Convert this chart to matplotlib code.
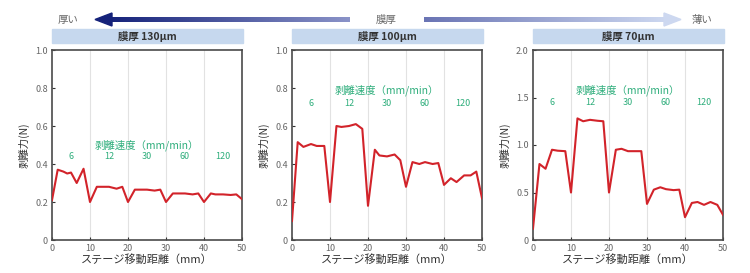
import matplotlib
matplotlib.use("Agg")
import matplotlib.pyplot as plt
import numpy as np
from matplotlib.patches import Polygon, Rectangle

plt.rcParams["font.family"] = ["Noto Sans CJK JP", "DejaVu Sans"]

# 剥離力データ（ステージ移動距離 mm, 剥離力 N）
dist_130 = [0, 1.5, 3, 4, 5, 6.5, 8.3, 10, 11.8, 13, 15, 17, 18.5, 20, 21.8, 23, 25, 27, 28.5,
            30, 31.8, 33, 35, 37, 38.5, 40, 41.8, 43, 45, 47, 48.5, 50]
force_130 = [0.21, 0.37, 0.36, 0.35, 0.355, 0.30, 0.375, 0.20, 0.28, 0.28, 0.28, 0.27, 0.28,
             0.20, 0.265, 0.265, 0.265, 0.26, 0.265, 0.20, 0.245, 0.245, 0.245, 0.24, 0.245,
             0.20, 0.245, 0.24, 0.24, 0.237, 0.24, 0.215]

dist_100 = [0, 1.5, 3, 5, 6.5, 8.5, 10, 11.7, 13, 15, 16.8, 18.5, 20, 21.8, 23, 25, 27, 28.5,
            30, 31.7, 33.5, 35, 37, 38.5, 40, 41.8, 43.3, 45.3, 47, 48.5, 50]
force_100 = [0.10, 0.515, 0.49, 0.505, 0.495, 0.495, 0.20, 0.60, 0.595, 0.60, 0.61, 0.585,
             0.18, 0.475, 0.445, 0.44, 0.45, 0.42, 0.28, 0.41, 0.40, 0.41, 0.40, 0.405,
             0.29, 0.325, 0.305, 0.34, 0.34, 0.36, 0.22]

dist_70 = [0, 1.7, 3.3, 5, 6.5, 8.5, 10, 11.7, 13.2, 15, 17, 18.5, 20, 21.8, 23.3, 25, 27, 28.5,
           30, 31.8, 33.5, 35, 37, 38.5, 40, 41.8, 43.3, 45, 46.7, 48.5, 50]
force_70 = [0.12, 0.80, 0.75, 0.95, 0.94, 0.935, 0.50, 1.28, 1.25, 1.265, 1.255, 1.25,
            0.50, 0.95, 0.96, 0.935, 0.935, 0.935, 0.38, 0.53, 0.555, 0.535, 0.525, 0.53,
            0.24, 0.39, 0.40, 0.37, 0.40, 0.37, 0.265]

titles = ["膜厚 130\u03bcm", "膜厚 100\u03bcm", "膜厚 70\u03bcm"]
speeds = ["6", "12", "30", "60", "120"]
speed_x = [5, 15, 25, 35, 45]
y_max = [1.0, 1.0, 2.0]
y_ticks = [
    [0, 0.2, 0.4, 0.6, 0.8, 1.0],
    [0, 0.2, 0.4, 0.6, 0.8, 1.0],
    [0, 0.5, 1.0, 1.5, 2.0],
]
y_ticklabels = [
    ["0", "0.2", "0.4", "0.6", "0.8", "1.0"],
    ["0", "0.2", "0.4", "0.6", "0.8", "1.0"],
    ["0", "0.5", "1.0", "1.5", "2.0"],
]
speed_title_y = [0.50, 0.79, 1.58]
speed_num_y = [0.44, 0.72, 1.45]

RED = "#d2232a"
GREEN = "#2fae7c"

W, H = 750, 273
fig = plt.figure(figsize=(7.5, 2.73), dpi=100)

# 装飾用オーバーレイ（ピクセル座標）
over = fig.add_axes([0, 0, 1, 1])
over.set_xlim(0, W)
over.set_ylim(H, 0)
over.axis("off")

# 膜厚の矢印（グラデーション）
grad = np.linspace(0, 1, 256).reshape(1, -1)
left_cmap = matplotlib.colors.LinearSegmentedColormap.from_list("l", ["#15227a", "#8a93c8"])
right_cmap = matplotlib.colors.LinearSegmentedColormap.from_list("r", ["#6a74b4", "#cdd8f0"])
over.imshow(grad, cmap=left_cmap, extent=(108, 350, 22, 17), aspect="auto", zorder=2)
over.add_patch(Polygon([[95, 19.5], [112, 13], [112, 26]], closed=True, color="#15227a", zorder=3))
over.imshow(grad, cmap=right_cmap, extent=(424, 666, 22, 17), aspect="auto", zorder=2)
over.add_patch(Polygon([[681, 19.5], [664, 13], [664, 26]], closed=True, color="#cdd8f0", zorder=3))
over.text(68, 19.5, "厚い", fontsize=7.5, color="#666666", ha="center", va="center")
over.text(386, 19.5, "膜厚", fontsize=7.5, color="#666666", ha="center", va="center")
over.text(702, 19.5, "薄い", fontsize=7.5, color="#666666", ha="center", va="center")

panel_left = [52, 292, 533]
panel_w = 190
ax_top, ax_bot = 50, 240

datasets = [(dist_130, force_130), (dist_100, force_100), (dist_70, force_70)]

for i, (xs, ys) in enumerate(datasets):
    left = panel_left[i]
    over.add_patch(Rectangle((left, 29), panel_w + 1, 14, color="#c6d8ee", zorder=1))
    over.text(left + panel_w / 2, 36.5, titles[i], fontsize=7.5, fontweight="bold",
              color="#333333", ha="center", va="center")

    ax = fig.add_axes([left / W, (H - ax_bot) / H, panel_w / W, (ax_bot - ax_top) / H])
    ax.plot(xs, ys, color=RED, linewidth=1.5, zorder=3)
    for gx in [10, 20, 30, 40]:
        ax.axvline(gx, color="#e2e2e2", linewidth=0.8, zorder=1)
    ax.set_xlim(0, 50)
    ax.set_ylim(0, y_max[i])
    ax.set_xticks([0, 10, 20, 30, 40, 50])
    ax.set_yticks(y_ticks[i])
    ax.set_yticklabels(y_ticklabels[i])
    ax.tick_params(direction="in", length=2.5, width=0.8, color="#333333",
                   labelsize=6.5, labelcolor="#666666", pad=3)
    for sp in ax.spines.values():
        sp.set_color("#4a4a4a")
        sp.set_linewidth(1.2)
    ax.set_xlabel("ステージ移動距離（mm）", fontsize=8, color="#333333", labelpad=1)
    ax.set_ylabel("剥離力(N)", fontsize=7.5, color="#333333", labelpad=4)

    ax.text(25, speed_title_y[i], "剥離速度（mm/min）", fontsize=7.5, color=GREEN,
            ha="center", va="center")
    for sx, s in zip(speed_x, speeds):
        ax.text(sx, speed_num_y[i], s, fontsize=6.5, color=GREEN, ha="center", va="center")

fig.savefig("out.png", dpi=100)
